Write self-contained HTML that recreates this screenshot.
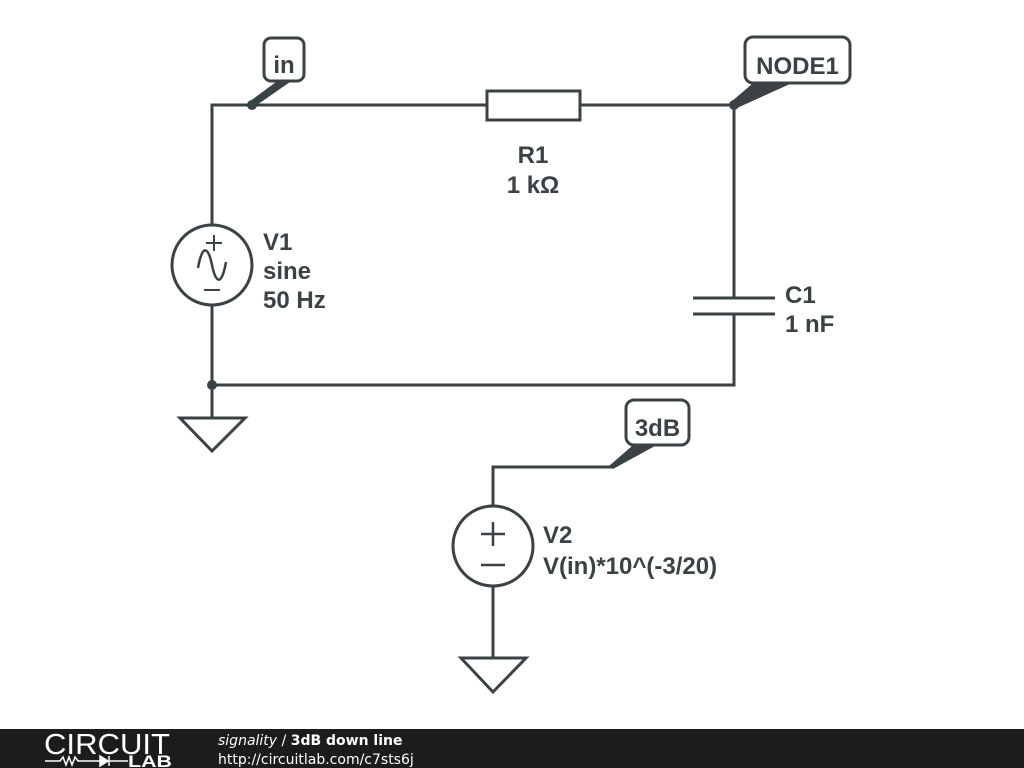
<!DOCTYPE html>
<html><head><meta charset="utf-8"><style>
html,body{margin:0;padding:0;background:#fff;width:1024px;height:768px;overflow:hidden}
svg{display:block}
text{font-family:"Liberation Sans",sans-serif;font-weight:bold;fill:#3a4246}
</style></head><body>
<svg width="1024" height="768" viewBox="0 0 1024 768">
<g stroke="#3a4246" stroke-width="3" fill="none" stroke-linejoin="miter">
<polyline points="212,225 212,105 487,105"/>
<line x1="580" y1="105" x2="734" y2="105"/>
<rect x="487" y="91" width="93" height="29" fill="#fff"/>
<line x1="734" y1="105" x2="734" y2="298"/>
<line x1="693" y1="298" x2="775" y2="298"/>
<line x1="693" y1="314" x2="775" y2="314"/>
<polyline points="734,314 734,385 212,385 212,305"/>
<circle cx="212" cy="265" r="40"/>
<path d="M198,268 C202,245 208,245 212,265 C216,285 222,285 226,262" stroke-width="2.5"/>
<line x1="206" y1="243" x2="222" y2="243" stroke-width="2"/>
<line x1="214" y1="235" x2="214" y2="251" stroke-width="2"/>
<line x1="204" y1="290" x2="220" y2="290" stroke-width="2"/>
<line x1="212" y1="385" x2="212" y2="418"/>
<polygon points="180,418 245,418 212,451"/>
<polyline points="612,467 493,467 493,506"/>
<circle cx="493" cy="546" r="40"/>
<line x1="481" y1="534" x2="505" y2="534" stroke-width="2.5"/>
<line x1="493" y1="522" x2="493" y2="546" stroke-width="2.5"/>
<line x1="481" y1="565" x2="505" y2="565" stroke-width="2.5"/>
<line x1="493" y1="586" x2="493" y2="658"/>
<polygon points="461,658 526,658 493,692"/>
<rect x="264" y="38" width="40" height="43" rx="7" fill="#fff"/>
<rect x="745" y="37" width="105" height="46" rx="8" fill="#fff"/>
<rect x="626" y="400" width="63" height="45" rx="8" fill="#fff"/>
</g>
<g fill="#3a4246">
<polygon points="276,82 290,82 254,107 249,102"/>
<polygon points="752,84 790,84 737,108 731,102"/>
<polygon points="632,446 655,446 613,469 609,466"/>
<circle cx="252" cy="105" r="5"/>
<circle cx="734" cy="105" r="5"/>
<circle cx="212" cy="385" r="5"/>
</g>
<g font-size="24">
<text x="284" y="73" text-anchor="middle">in</text>
<text x="797.5" y="74" text-anchor="middle">NODE1</text>
<text x="657.5" y="436" text-anchor="middle">3dB</text>
<text x="533" y="163" text-anchor="middle">R1</text>
<text x="533" y="193" text-anchor="middle">1 kΩ</text>
<text x="263" y="250">V1</text>
<text x="263" y="279">sine</text>
<text x="263" y="308">50 Hz</text>
<text x="785" y="303">C1</text>
<text x="785" y="332">1 nF</text>
<text x="543" y="543">V2</text>
<text x="543" y="574">V(in)*10^(-3/20)</text>
</g>
<rect x="0" y="729" width="1024" height="39" fill="#1c1c1c"/>
<text x="44" y="754" font-size="29" textLength="126" lengthAdjust="spacingAndGlyphs" style="font-weight:normal;fill:#fff">CIRCUIT</text>
<g stroke="#fff" stroke-width="1.5" fill="none">
<polyline points="45,761 60,761 63,757 66,765 69,757 72,765 75,757 78,761 100,761"/>
<polygon points="100,756 100,766 108,761" fill="#fff"/>
<line x1="109" y1="756" x2="109" y2="766"/>
<line x1="109" y1="761" x2="128" y2="761"/>
</g>
<text x="128" y="767" font-size="17" textLength="44" lengthAdjust="spacingAndGlyphs" style="fill:#fff">LAB</text>
<text x="218" y="745" font-size="14" font-family="DejaVu Sans" style="fill:#fff;font-family:'DejaVu Sans'"><tspan style="font-style:italic;font-weight:normal">signality</tspan><tspan style="font-weight:normal"> / </tspan>3dB down line</text>
<text x="218" y="764" font-size="14" style="fill:#fff;font-weight:normal;font-family:'DejaVu Sans'">http://circuitlab.com/c7sts6j</text>
</svg>
</body></html>
